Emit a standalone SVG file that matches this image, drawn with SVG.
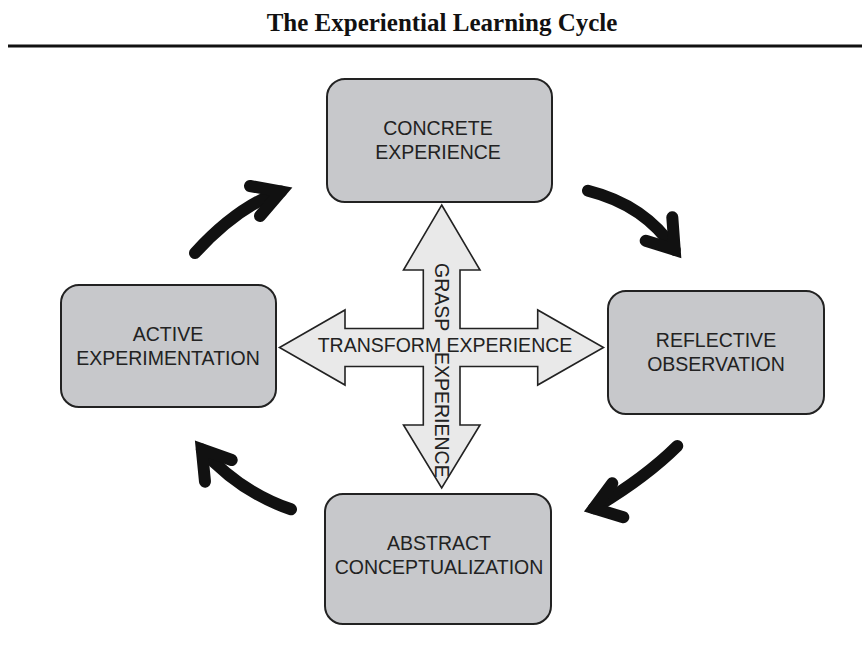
<svg xmlns="http://www.w3.org/2000/svg" width="862" height="653" viewBox="0 0 862 653">
<defs>
<style>
.box{fill:#c7c8cb;stroke:#222;stroke-width:2}
.lbl{font-family:"Liberation Sans",Arial,sans-serif;font-size:19.5px;fill:#222;text-anchor:middle}
.cross{fill:#e9e9e9;stroke:#222;stroke-width:1.6;stroke-linejoin:miter}
.shaft{fill:none;stroke:#111;stroke-width:12;stroke-linecap:round}
.head{fill:none;stroke:#111;stroke-width:12;stroke-linecap:round;stroke-linejoin:miter;stroke-miterlimit:6}
</style>
</defs>
<rect width="862" height="653" fill="#fff"/>
<text x="442" y="31" font-family="'Liberation Serif','Times New Roman',serif" font-weight="bold" font-size="25" text-anchor="middle" fill="#111">The Experiential Learning Cycle</text>
<line x1="8" y1="46" x2="862" y2="46" stroke="#111" stroke-width="3"/>

<g id="cross">
<polygon class="cross" points="441.7,205 480,270 460,270 460,328.5 537.7,328.5 537.7,310 603.5,347.5 537.7,385 537.7,366.5 460,366.5 460,425 480,425 441.7,488 403.5,425 423.3,425 423.3,366.5 345,366.5 345,385 279.5,347.5 345,310 345,328.5 423.3,328.5 423.3,270 403.5,270"/>
<text class="lbl" x="445" y="352">TRANSFORM EXPERIENCE</text>
<text class="lbl" transform="translate(435,0) rotate(90)" style="text-anchor:start"><tspan x="263" y="0">GRASP</tspan><tspan x="352" y="0">EXPERIENCE</tspan></text>
</g>

<g id="concrete-experience">
<rect class="box" x="327" y="79" width="225" height="123" rx="18"/>
<text class="lbl" x="438" y="135">CONCRETE</text>
<text class="lbl" x="438" y="159">EXPERIENCE</text>
</g>
<g id="active-experimentation">
<rect class="box" x="61" y="285" width="215" height="122" rx="18"/>
<text class="lbl" x="168" y="341">ACTIVE</text>
<text class="lbl" x="168" y="365">EXPERIMENTATION</text>
</g>
<g id="reflective-observation">
<rect class="box" x="608" y="291" width="216" height="123" rx="18"/>
<text class="lbl" x="716" y="347">REFLECTIVE</text>
<text class="lbl" x="716" y="371">OBSERVATION</text>
</g>
<g id="abstract-conceptualization">
<rect class="box" x="325" y="494" width="226" height="130" rx="18"/>
<text class="lbl" x="439" y="550">ABSTRACT</text>
<text class="lbl" x="439" y="574">CONCEPTUALIZATION</text>
</g>

<g id="connectors">
<path class="shaft" d="M195,253 Q238,206 281,191.5"/>
<path class="head" d="M250,186 L281,191.5 L260,216"/>
<path class="shaft" d="M588,190.7 Q645,205 674.7,249.8"/>
<path class="head" d="M672.3,217.3 L674.7,249.8 L645.7,240.7"/>
<path class="shaft" d="M677.3,446 Q645,478 593.8,508.3"/>
<path class="head" d="M612.3,483.3 L593.8,508.3 L623.3,517.3"/>
<path class="shaft" d="M291,509.3 Q240,492 201.8,449.4"/>
<path class="head" d="M231.7,460 L201.8,449.4 L205,481.7"/>
</g>
</svg>
